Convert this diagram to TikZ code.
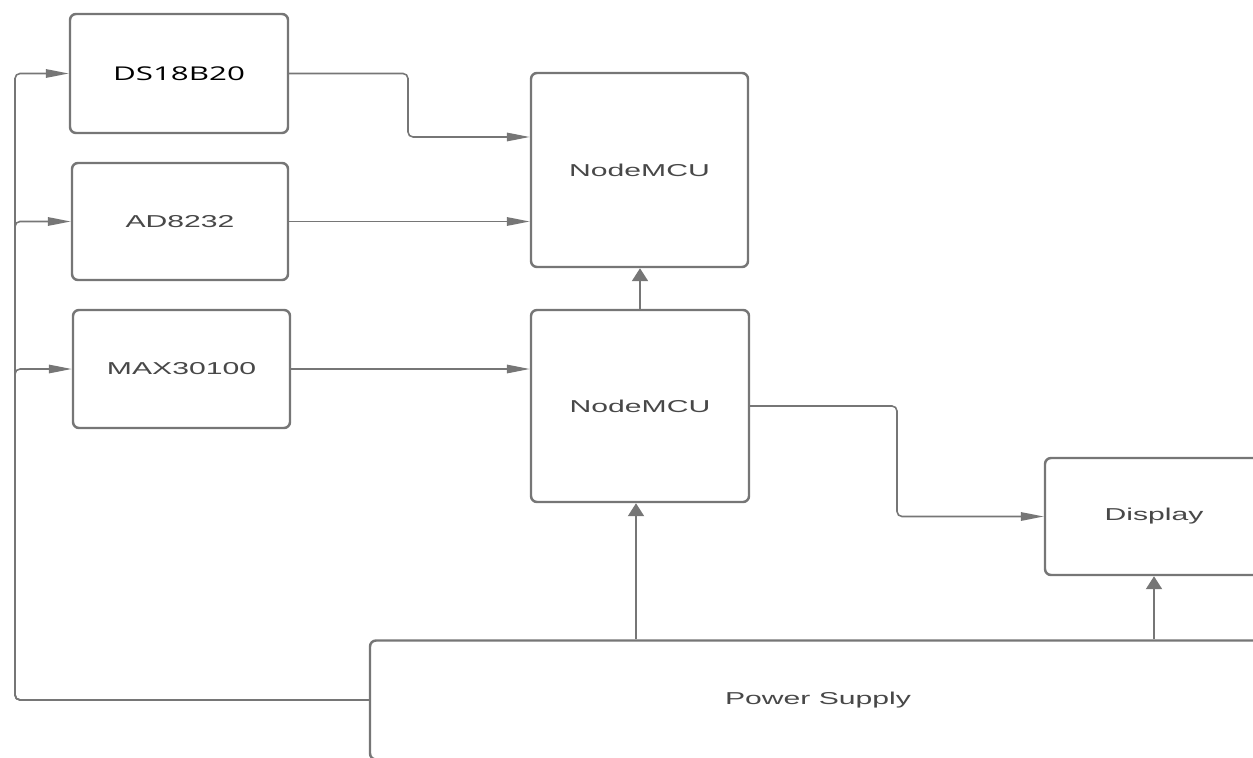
\documentclass[tikz,border=0pt]{standalone}
\usepackage{fontspec}
\setmainfont{Liberation Sans}[FakeStretch=1.75]
\newfontfamily\dsfont{Open Sans}[FakeStretch=1.65]
\usepackage{xcolor}
\usetikzlibrary{arrows.meta,positioning}
\definecolor{linegray}{RGB}{118,118,118}
\definecolor{textgray}{RGB}{72,72,72}

\begin{document}
\begin{tikzpicture}[
  block/.style={rectangle, draw=linegray, line width=1.4pt, rounded corners=1.2mm,
    fill=white, text=textgray, inner sep=0pt, font=\fontsize{9.8}{11}\selectfont},
  hedge/.style={-{Triangle[length=4.6mm, width=1.7mm]}, draw=linegray,
    line width=0.9pt, rounded corners=1mm},
  vedge/.style={-{Triangle[length=2.6mm, width=3.2mm]}, draw=linegray, line width=1.2pt},
]
  \useasboundingbox (0,0) rectangle (25.06,-15.16);
  \clip (0,0) rectangle (25.06,-15.16);

  % sensors
  \node[block, minimum width=4.36cm, minimum height=2.38cm, text=black,
    font=\dsfont\fontsize{10.8}{12}\selectfont] (ds) at (3.58,-1.47) {DS18B20};
  \node[block, minimum width=4.32cm, minimum height=2.34cm] (ad) at (3.60,-4.43) {AD8232};
  \node[block, minimum width=4.34cm, minimum height=2.36cm] (max) at (3.63,-7.38) {MAX30100};

  % controllers, display, supply
  \node[block, minimum width=4.34cm, minimum height=3.88cm] (mcuA) at (12.79,-3.40) {NodeMCU};
  \node[block, minimum width=4.36cm, minimum height=3.84cm] (mcuB) at (12.80,-8.12) {NodeMCU};
  \node[block, minimum width=4.36cm, minimum height=2.34cm] (disp) at (23.08,-10.33) {Display};
  \node[block, minimum width=17.92cm, minimum height=2.38cm] (ps) at (16.36,-14.0) {Power Supply};

  \draw[hedge] (ds.east) -- (8.16,-1.47) |- ([yshift=6.6mm]mcuA.west);
  \draw[hedge] (ad.east) -- (ad.east -| mcuA.west);
  \draw[hedge] (max.east) -- (max.east -| mcuB.west);
  \draw[vedge] (mcuB.north) -- (mcuB.north |- mcuA.south);
  \draw[hedge] (mcuB.east) -- (17.94,-8.12) |- (disp.west);
  \draw[vedge] ([xshift=-0.8mm]ps.north -| mcuB.south) -- ([xshift=-0.8mm]mcuB.south);
  \draw[vedge] (ps.north -| disp.south) -- (disp.south);

  % supply bus on the left
  \coordinate (bus) at (0.30,-14.0);
  \draw[hedge] (ps.west) -- (bus) |- (ds.west);
  \draw[hedge] (ps.west) -- (bus) |- (ad.west);
  \draw[hedge] (ps.west) -- (bus) |- (max.west);
\end{tikzpicture}
\end{document}
